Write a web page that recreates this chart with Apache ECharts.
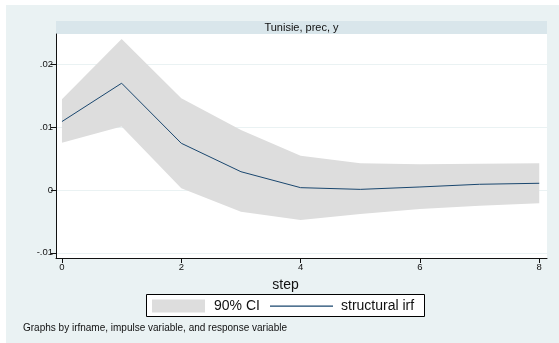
<!DOCTYPE html>
<html>
<head>
<meta charset="utf-8">
<script src="https://cdn.jsdelivr.net/npm/echarts@6/dist/echarts.min.js"></script>
<style>
  html, body { margin: 0; padding: 0; background: #ffffff; }
  #frame { position: absolute; left: 6px; top: 5px; width: 553px; height: 338px; background: #eaf2f3; }
  #chart { position: absolute; left: 0; top: 0; width: 559px; height: 343px; }
</style>
</head>
<body>
<div id="frame"></div>
<div id="chart"></div>
<script>
// Impulse response: Tunisie, impulse prec, response y
const steps   = [0, 1, 2, 3, 4, 5, 6, 7, 8];
const irf     = [0.0109, 0.0170, 0.00744, 0.00291, 0.00037, 0.00010, 0.00048, 0.00091, 0.00107];
const ciUpper = [0.01444, 0.02404, 0.0146, 0.00955, 0.00546, 0.00425, 0.00409, 0.00419, 0.00425];
const ciLower = [0.00753, 0.0101, 0.00027, -0.00345, -0.00478, -0.00382, -0.00303, -0.0025, -0.00212];
const xTicks  = [0, 2, 4, 6, 8];
const yTicks  = [-0.01, 0, 0.01, 0.02];

const panelTitle = 'Tunisie, prec, y';
const xTitle = 'step';
const noteText = 'Graphs by irfname, impulse variable, and response variable';

const FONT = '"Liberation Sans", Arial, sans-serif';
const LINE = '#1a476f';
const BAND = '#dddddd';

// Legend key for the irf line: a thin horizontal bar in a 63x13 box
// (tiny corner marks fix the box extent so the bar is not stretched).
const LINE_KEY = 'path://M0,0L0.01,0L0,0.01Z M0,6L63,6L63,7.2L0,7.2Z M63,13L62.99,13L63,12.99Z';

const bandRows = steps.map((s, i) => [s, ciLower[i], ciUpper[i]]);
const irfPts   = steps.map((s, i) => [s, irf[i]]);

// The confidence band is drawn as one closed polygon: along the upper bound,
// then back along the lower bound.
function renderBand(params, api) {
  if (params.dataIndexInside !== 0) return null;
  const n = params.dataInsideLength;
  const upper = [], lower = [];
  for (let i = 0; i < n; i++) {
    const x = api.value(0, i);
    upper.push(api.coord([x, api.value(2, i)]));
    lower.push(api.coord([x, api.value(1, i)]));
  }
  return {
    type: 'polygon',
    shape: { points: upper.concat(lower.reverse()) },
    style: { fill: BAND, stroke: null }
  };
}

const chart = echarts.init(document.getElementById('chart'), null, { renderer: 'canvas' });

chart.setOption({
  backgroundColor: 'transparent',
  animation: false,
  grid: {
    left: 56, right: 12, top: 34, bottom: 85,
    show: true, backgroundColor: '#ffffff', borderWidth: 0
  },
  xAxis: {
    type: 'value',
    min: -0.1, max: 8.13,
    axisLine: { show: true, onZero: false, lineStyle: { color: '#111', width: 1 } },
    axisTick: { show: true, length: 5, customValues: xTicks, lineStyle: { color: '#111' } },
    axisLabel: { customValues: xTicks, margin: 4, color: '#111', fontSize: 9.5, fontFamily: FONT },
    splitLine: { show: false }
  },
  yAxis: {
    type: 'value',
    min: -0.01083, max: 0.02484,
    axisLine: { show: true, onZero: false, lineStyle: { color: '#111', width: 1 } },
    axisTick: { show: true, length: 5, customValues: yTicks, lineStyle: { color: '#111' } },
    axisLabel: {
      customValues: yTicks, margin: 3, color: '#111', fontSize: 9.5, fontFamily: FONT,
      formatter: v => (Math.abs(v) < 1e-12 ? '0' : v.toFixed(2).replace('0.', '.'))
    },
    splitLine: { show: true, lineStyle: { color: '#eaf2f3', width: 1 } }
  },
  legend: [
    {
      left: 152, top: 299, padding: 0,
      itemWidth: 53, itemHeight: 13,
      textStyle: { fontSize: 14, fontFamily: FONT, color: '#111', padding: [0, 0, 0, 4] },
      data: [{ name: '90% CI', icon: 'rect', itemStyle: { color: BAND } }]
    },
    {
      left: 270, top: 299, padding: 0,
      itemWidth: 63, itemHeight: 13,
      textStyle: { fontSize: 14, fontFamily: FONT, color: '#111', padding: [0, 0, 0, 3] },
      data: [{ name: 'structural irf', icon: LINE_KEY, itemStyle: { color: LINE } }]
    }
  ],
  graphic: [
    { type: 'rect', shape: { x: 56, y: 21, width: 491, height: 13 }, style: { fill: '#d9e6eb' }, silent: true },
    { type: 'text', x: 301.5, y: 27.5, style: { text: panelTitle, fontSize: 11, fontFamily: FONT, fill: '#111', align: 'center', verticalAlign: 'middle' }, silent: true },
    { type: 'text', x: 285.5, y: 285, style: { text: xTitle, fontSize: 14, fontFamily: FONT, fill: '#111', align: 'center', verticalAlign: 'middle' }, silent: true },
    { type: 'rect', shape: { x: 146.5, y: 294.5, width: 278, height: 22 }, style: { fill: '#ffffff', stroke: '#000', lineWidth: 1 }, silent: true, z: -1 },
    { type: 'text', x: 23, y: 328, style: { text: noteText, fontSize: 10, fontFamily: FONT, fill: '#111', align: 'left', verticalAlign: 'middle' }, silent: true }
  ],
  series: [
    {
      name: '90% CI', type: 'custom', data: bandRows,
      renderItem: renderBand,
      encode: { x: 0, y: [1, 2] },
      itemStyle: { color: BAND },
      silent: true, z: 2
    },
    {
      name: 'structural irf', type: 'line', data: irfPts,
      symbol: 'none', lineStyle: { color: LINE, width: 1 }, itemStyle: { color: LINE },
      silent: true, z: 3
    }
  ]
});
</script>
</body>
</html>
